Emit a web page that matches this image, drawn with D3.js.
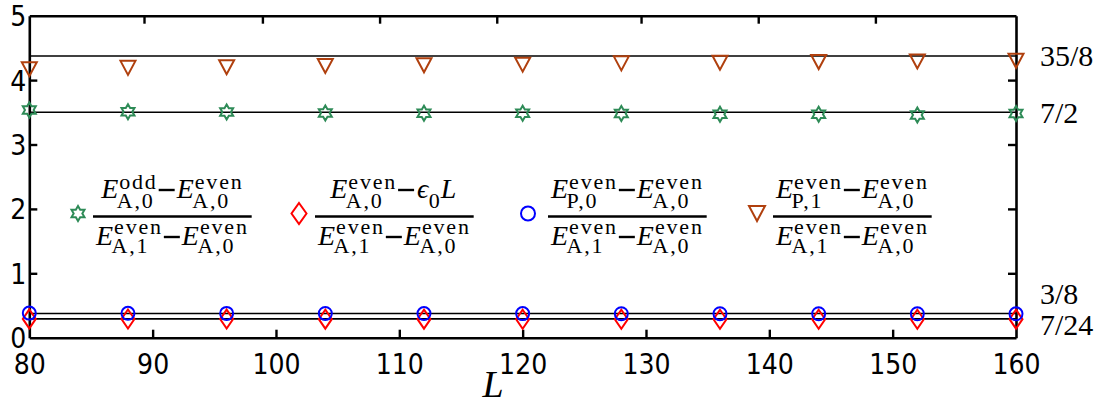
<!DOCTYPE html>
<html><head><meta charset="utf-8">
<script src="https://cdn.jsdelivr.net/npm/d3@7"></script>
<style>
html,body{margin:0;padding:0;background:#fff;}
svg{display:block;}
</style></head>
<body>
<svg id="chart" width="1100" height="406"></svg>
<script>
// ---------- data ----------
const Ls = [80, 88, 96, 104, 112, 120, 128, 136, 144, 152, 160];
const ratioOddGap = [3.535, 3.51, 3.505, 3.49, 3.485, 3.485, 3.48, 3.47, 3.47, 3.46, 3.48];   // green stars
const ratioEps    = [0.292, 0.290, 0.289, 0.288, 0.288, 0.287, 0.287, 0.287, 0.287, 0.287, 0.288]; // red diamonds
const ratioP0     = [0.382, 0.379, 0.377, 0.376, 0.375, 0.374, 0.373, 0.373, 0.372, 0.372, 0.371]; // blue circles
const ratioP1     = [4.17, 4.19, 4.20, 4.22, 4.23, 4.24, 4.26, 4.27, 4.28, 4.29, 4.30];  // brown triangles
const xTicks = [80, 90, 100, 110, 120, 130, 140, 150, 160];
const xTopTicks = [89.3, 98.9, 108.4, 117.9, 129.6, 139.1, 148.6];
const yTicks = [0, 1, 2, 3, 4, 5];
const refValues = [35/8, 7/2, 3/8, 7/24];
const refLabels = ["35/8", "7/2", "3/8", "7/24"];

(function () {
// ---------- layout ----------
const svg = d3.select("#chart");
const pLeft = 29.3, pRight = 1016, pTop = 15.7, pBottom = 337.7;
const x = d3.scaleLinear().domain([80, 160]).range([pLeft, pRight]);
const y = d3.scaleLinear().domain([0, 5]).range([pBottom, pTop]);

const sansFont = "'DejaVu Sans Condensed', 'DejaVu Sans', sans-serif";
const serifFont = "'Liberation Serif', 'Times New Roman', serif";

// reference lines
svg.append("g").selectAll("line").data(refValues).join("line")
  .attr("x1", x(80)).attr("x2", x(160))
  .attr("y1", d => y(d)).attr("y2", d => y(d))
  .attr("stroke", "#000").attr("stroke-width", 1.6);

// right labels
const labelShift = [0, 0, -20, 6];
svg.append("g").selectAll("text").data(refLabels).join("text")
  .attr("x", 1040).attr("y", (d, i) => y(refValues[i]) + labelShift[i])
  .attr("dominant-baseline", "central")
  .attr("font-family", serifFont).attr("font-size", 30)
  .text(d => d);

// axes
const tickLen = 8;
const gx = svg.append("g").attr("transform", `translate(0,${pBottom})`)
  .call(d3.axisBottom(x).tickValues(xTicks).tickFormat(d3.format("d")).tickSizeInner(-tickLen).tickSizeOuter(0).tickPadding(16));
const gxt = svg.append("g").attr("transform", `translate(0,${pTop})`)
  .call(d3.axisTop(x).tickValues(xTopTicks).tickSizeInner(-tickLen).tickSizeOuter(0).tickFormat(""));
const gy = svg.append("g").attr("transform", `translate(${pLeft},0)`)
  .call(d3.axisLeft(y).tickValues(yTicks).tickFormat(d3.format("d")).tickSizeInner(-tickLen).tickSizeOuter(0).tickPadding(3));
const gyr = svg.append("g").attr("transform", `translate(${pRight},0)`)
  .call(d3.axisRight(y).tickValues(yTicks).tickSizeInner(-tickLen).tickSizeOuter(0).tickFormat(""));
[gx, gxt, gy, gyr].forEach(g => {
  g.select(".domain").attr("stroke", "#000").attr("stroke-width", 2.6);
  g.selectAll(".tick line").attr("stroke", "#000").attr("stroke-width", 2.4);
  g.selectAll(".tick text").attr("font-family", sansFont).attr("font-size", 28).attr("fill", "#000");
});
gy.selectAll(".tick text").attr("dy", "0.36em");
gx.selectAll(".tick line").filter(d => d === 80 || d === 160).remove();
gy.selectAll(".tick line").filter(d => d === 0 || d === 5).remove();
gyr.selectAll(".tick line").filter(d => d === 0 || d === 5).remove();

// x axis title
svg.append("text").attr("x", 493).attr("y", 397).attr("text-anchor", "middle")
  .attr("font-family", serifFont).attr("font-style", "italic").attr("font-size", 38).text("L");

// ---------- markers ----------
function starPath(R) {
  const r = R / Math.sqrt(3);
  const pts = [];
  for (let k = 0; k < 12; k++) {
    const a = (-90 + k * 30) * Math.PI / 180;
    const rr = k % 2 === 0 ? R : r;
    pts.push([rr * Math.cos(a), rr * Math.sin(a)]);
  }
  return "M" + pts.map(p => p.join(",")).join("L") + "Z";
}
function triDownPath(w, h) {
  return `M0,${h/2}L${-w/2},${-h/2}L${w/2},${-h/2}Z`;
}
function diamondPath(w, h) {
  return `M0,${-h/2}L${w/2},0L0,${h/2}L${-w/2},0Z`;
}
const series = [
  {vals: ratioOddGap, color: "#2e8b57", path: starPath(7.5)},
  {vals: ratioEps, color: "#ff0000", path: diamondPath(13, 19)},
  {vals: ratioP0, color: "#0000ff", path: null},
  {vals: ratioP1, color: "#b0400e", path: triDownPath(15, 14)}
];
const mg = svg.append("g");
[1, 2, 3, 0].forEach(si => {
  const s = series[si];
  const g = mg.append("g");
  if (s.path) {
    g.selectAll("path").data(s.vals).join("path")
      .attr("transform", (d, i) => `translate(${x(Ls[i])},${y(d)})`)
      .attr("d", s.path).attr("fill", "none").attr("stroke", s.color).attr("stroke-width", 2);
  } else {
    g.selectAll("circle").data(s.vals).join("circle")
      .attr("cx", (d, i) => x(Ls[i])).attr("cy", d => y(d)).attr("r", 6.5)
      .attr("fill", "none").attr("stroke", s.color).attr("stroke-width", 2);
  }
});

// ---------- legend ----------
const EFont = 28, sFont = 22, sSpacing = 1.8;
const lg = svg.append("g");
// one text element per fraction row; every piece is a tspan placed absolutely
function drawRow(g, base, terms, supOff, subOff) {
  const t = g.append("text").attr("font-family", serifFont).attr("fill", "#000");
  let cx = 0;
  function piece(str, px, py, italic, size, spacing) {
    const ts = t.append("tspan").attr("x", px).attr("y", py)
      .attr("font-size", size).attr("font-style", italic ? "italic" : "normal").text(str);
    if (spacing) ts.attr("letter-spacing", spacing);
    return ts.node().getComputedTextLength();
  }
  terms.forEach(term => {
    if (term.type === "E") {
      const wE = piece("E", cx, base, true, EFont);
      const w1 = piece(term.sup, cx + wE + 1, base + supOff, false, sFont, sSpacing) + 1;
      const w2 = piece(term.sub, cx + wE - 1.5, base + subOff, false, sFont, sSpacing) - 1.5;
      cx += wE + Math.max(w1, w2);
    } else if (term.type === "minus") {
      g.append("line").attr("x1", cx + 1).attr("x2", cx + 17)
        .attr("y1", base - 8).attr("y2", base - 8).attr("stroke", "#000").attr("stroke-width", 2.4);
      cx += 19;
    } else if (term.type === "eps") {
      cx += 1;
      cx += piece("ϵ", cx, base, true, EFont);
      cx += piece("0", cx + 0.5, base + subOff, false, sFont) + 1.5;
      cx += piece("L", cx, base, true, EFont) + 2;
    }
  });
  return cx;
}
const legendMarkerX = [78, 299, 528, 757];
const legendBarX = [93, 315, 548, 773];
const legendNumerators = [
  [{type: "E", sup: "odd", sub: "A,0"}, {type: "minus"}, {type: "E", sup: "even", sub: "A,0"}],
  [{type: "E", sup: "even", sub: "A,0"}, {type: "minus"}, {type: "eps"}],
  [{type: "E", sup: "even", sub: "P,0"}, {type: "minus"}, {type: "E", sup: "even", sub: "A,0"}],
  [{type: "E", sup: "even", sub: "P,1"}, {type: "minus"}, {type: "E", sup: "even", sub: "A,0"}]
];
const legendDenominator = [{type: "E", sup: "even", sub: "A,1"}, {type: "minus"}, {type: "E", sup: "even", sub: "A,0"}];
const barY = 216.5;
legendNumerators.forEach((num, i) => {
  const g = lg.append("g");
  const s = series[i];
  if (s.path) {
    const p = i === 1 ? diamondPath(15, 21) : (i === 3 ? triDownPath(16, 15) : starPath(7.5));
    g.append("path").attr("transform", `translate(${legendMarkerX[i]},${barY - 3})`)
      .attr("d", p).attr("fill", "none").attr("stroke", s.color).attr("stroke-width", 2);
  } else {
    g.append("circle").attr("cx", legendMarkerX[i]).attr("cy", barY - 3).attr("r", 7)
      .attr("fill", "none").attr("stroke", s.color).attr("stroke-width", 2);
  }
  const gn = g.append("g"), gd = g.append("g");
  const wn = drawRow(gn, 198, num, -9, 10);
  const wd = drawRow(gd, 245, legendDenominator, -11, 8);
  const w = Math.max(wn, wd) + 6;
  gn.attr("transform", `translate(${legendBarX[i] + (w - wn) / 2},0)`);
  gd.attr("transform", `translate(${legendBarX[i] + (w - wd) / 2},0)`);
  g.append("line").attr("x1", legendBarX[i]).attr("x2", legendBarX[i] + w)
    .attr("y1", barY).attr("y2", barY).attr("stroke", "#000").attr("stroke-width", 2.6);
});
})();
</script>
</body></html>
